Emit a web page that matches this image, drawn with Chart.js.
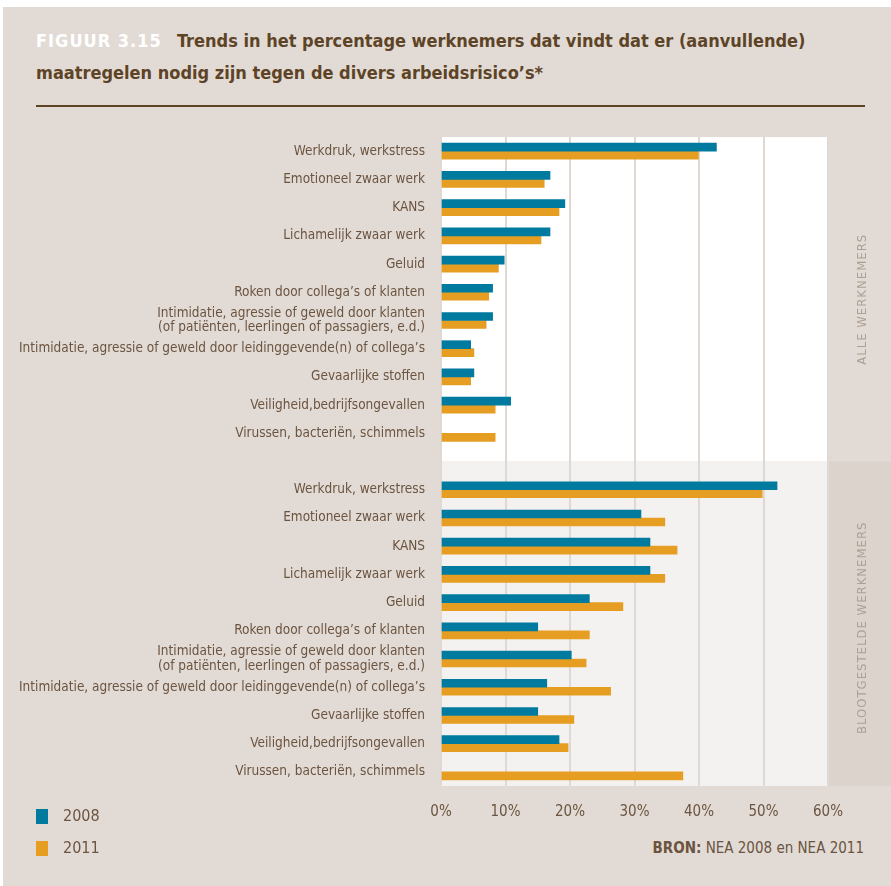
<!DOCTYPE html>
<html lang="nl">
<head>
<meta charset="utf-8">
<title>Figuur 3.15</title>
<script src="https://cdn.jsdelivr.net/npm/chart.js@4.4.1/dist/chart.umd.min.js"></script>
<style>
  html, body { margin: 0; padding: 0; background: #fff; }
  body { width: 891px; height: 886px; position: relative; overflow: hidden;
         font-family: "Liberation Sans Narrow", "DejaVu Sans Condensed", "Liberation Sans", sans-serif; }
  .panel { position: absolute; left: 3px; top: 7px; width: 888px; height: 879px; background: #e2dbd5; }
  .title { position: absolute; font-size: 18px; font-weight: bold; line-height: 22px; color: #5e4426; white-space: nowrap; }
  .fig { color: #fff; letter-spacing: 1px; }
  .rule { position: absolute; left: 36px; top: 105px; width: 829px; height: 2px; background: #5e4426; }
  #wrap { position: absolute; left: 0; top: 114px; width: 891px; height: 716px; }
  .legend { position: absolute; left: 36px; font-size: 16px; color: #6b5440; }
  .legend span { display: inline-block; width: 12px; height: 15px; vertical-align: middle; margin-right: 15px; }
  .bron { position: absolute; right: 27px; top: 839px; font-size: 15px; color: #6b5440; }
</style>
</head>
<body>
<div class="panel"></div>
<div class="title fig" style="left:36px; top:30px">FIGUUR 3.15</div>
<div class="title" style="left:177px; top:30px">Trends in het percentage werknemers dat vindt dat er (aanvullende)</div>
<div class="title" style="left:36px; top:62px">maatregelen nodig zijn tegen de divers arbeidsrisico’s*</div>
<div class="rule"></div>
<div id="wrap"><canvas id="chart" width="891" height="716"></canvas></div>
<div class="legend" style="top:806px"><span style="background:#007a9e"></span>2008</div>
<div class="legend" style="top:838px"><span style="background:#e59e22"></span>2011</div>
<div class="bron"><b>BRON:</b> NEA 2008 en NEA 2011</div>
<script>
const CATEGORIES = [
  "Werkdruk, werkstress",
  "Emotioneel zwaar werk",
  "KANS",
  "Lichamelijk zwaar werk",
  "Geluid",
  "Roken door collega’s of klanten",
  ["Intimidatie, agressie of geweld door klanten", "(of patiënten, leerlingen of passagiers, e.d.)"],
  "Intimidatie, agressie of geweld door leidinggevende(n) of collega’s",
  "Gevaarlijke stoffen",
  "Veiligheid,bedrijfsongevallen",
  "Virussen, bacteriën, schimmels",
];
const SECTIONS = ["ALLE WERKNEMERS", "BLOOTGESTELDE WERKNEMERS"];

// percentages, all employees
const ALL_2008 = [42.7, 16.9, 19.2, 16.9, 9.8, 8.0, 8.0, 4.6, 5.1, 10.8, null];
const ALL_2011 = [39.9, 16.0, 18.3, 15.5, 8.9, 7.4, 7.0, 5.1, 4.6, 8.4, 8.4];
// percentages, exposed employees
const EXP_2008 = [52.1, 31.0, 32.4, 32.4, 23.0, 15.0, 20.2, 16.4, 15.0, 18.3, null];
const EXP_2011 = [49.8, 34.7, 36.6, 34.7, 28.2, 23.0, 22.5, 26.3, 20.6, 19.7, 37.5];

const X_TICKS = [0, 10, 20, 30, 40, 50, 60];

const labels = [...CATEGORIES, "", ...CATEGORIES];
const series2008 = [...ALL_2008, null, ...EXP_2008];
const series2011 = [...ALL_2011, null, ...EXP_2011];

const FONT = '"Liberation Sans Narrow", "DejaVu Sans Condensed", "Liberation Sans", sans-serif';
const TEXT = "#6b5440";

// section backgrounds + side strip with vertical captions
const sectionPlugin = {
  id: "sections",
  beforeDraw(chart) {
    const { ctx, chartArea: a, scales } = chart;
    const mid = scales.y.getPixelForValue(CATEGORIES.length);
    ctx.save();
    ctx.fillStyle = "#ffffff";
    ctx.fillRect(a.left, a.top, a.right - a.left, mid - a.top);
    ctx.fillStyle = "#f4f2f0";
    ctx.fillRect(a.left, mid, a.right - a.left, a.bottom - mid);
    ctx.fillStyle = "#dbd3cc";
    ctx.fillRect(a.right, mid, chart.width - a.right, a.bottom - mid);
    ctx.restore();
  },
  afterDraw(chart) {
    const { ctx, chartArea: a, scales } = chart;
    const mid = scales.y.getPixelForValue(CATEGORIES.length);
    const cx = (a.right + chart.width) / 2 + 3;
    const centers = [(a.top + mid) / 2, (mid + a.bottom) / 2 + 4];
    ctx.save();
    ctx.fillStyle = "#ada196";
    ctx.font = "13px " + FONT;
    ctx.letterSpacing = "1px";
    ctx.textAlign = "center";
    ctx.textBaseline = "middle";
    SECTIONS.forEach((s, i) => {
      ctx.save();
      ctx.translate(cx, centers[i]);
      ctx.rotate(-Math.PI / 2);
      ctx.fillText(s, 0, 0);
      ctx.restore();
    });
    ctx.restore();
  },
};

new Chart(document.getElementById("chart"), {
  type: "bar",
  data: {
    labels: labels,
    datasets: [
      { label: "2008", data: series2008, backgroundColor: "#007a9e", barThickness: 8 },
      { label: "2011", data: series2011, backgroundColor: "#e59e22", barThickness: 8 },
    ],
  },
  options: {
    indexAxis: "y",
    responsive: false,
    animation: false,
    layout: { padding: { top: 0, right: 63, left: 0, bottom: 0 } },
    plugins: { legend: { display: false }, tooltip: { enabled: false } },
    scales: {
      x: {
        min: 0,
        max: 60,
        afterBuildTicks(scale) {
          scale.ticks = X_TICKS.map((v) => ({ value: v }));
        },
        afterFit(scale) { scale.height = 44; },
        grid: { color: "#e0d9d3", lineWidth: 2, drawTicks: false },
        border: { display: false },
        ticks: {
          padding: 17,
          color: TEXT,
          font: { family: FONT, size: 15 },
          callback: (v) => v + "%",
        },
      },
      y: {
        afterFit(scale) { scale.width = 441; },
        grid: { display: false, drawTicks: false },
        border: { display: false },
        ticks: {
          padding: 16,
          color: TEXT,
          autoSkip: false,
          font: { family: FONT, size: 13.5, lineHeight: 1.05 },
        },
      },
    },
  },
  plugins: [sectionPlugin],
});
</script>
</body>
</html>
